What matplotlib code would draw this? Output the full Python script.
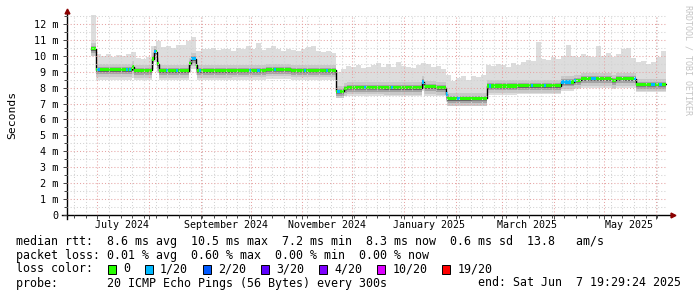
import matplotlib
matplotlib.use('Agg')
import matplotlib.pyplot as plt
import matplotlib.dates as mdates
import matplotlib.ticker as mticker
from matplotlib.patches import Rectangle
import numpy as np
import pandas as pd

plt.rcParams['font.family'] = 'DejaVu Sans Mono'

# graph window (smokeping "last 360 days")
start = pd.Timestamp('2024-06-12 19:29:24')
end = pd.Timestamp('2025-06-07 19:29:24')

# median rtt (ms), step changes
med_dates = ['2024-06-27', '2024-06-30', '2024-07-22', '2024-07-23', '2024-08-03',
             '2024-08-04', '2024-08-06', '2024-08-07', '2024-08-25', '2024-08-26',
             '2024-08-29', '2024-08-30', '2024-09-20', '2024-10-10', '2024-10-25',
             '2024-11-21', '2024-11-26', '2024-11-28', '2024-12-20', '2025-01-12',
             '2025-01-13', '2025-01-20', '2025-01-26', '2025-01-27', '2025-02-10',
             '2025-02-20', '2025-03-10', '2025-04-05', '2025-04-13', '2025-04-17',
             '2025-05-06', '2025-05-08', '2025-05-20']
med_vals = [10.45, 9.12, 9.30, 9.08, 9.80, 10.25, 9.50, 9.05, 9.50, 9.82,
            9.40, 9.05, 9.10, 9.15, 9.10, 7.78, 7.95, 8.02, 8.00, 8.35,
            8.05, 8.00, 7.60, 7.30, 7.32, 8.10, 8.12, 8.35, 8.45, 8.55,
            8.45, 8.55, 8.22]
# lowest ping at the same steps
lo_vals = [10.10, 8.50, 8.60, 8.48, 9.20, 9.60, 8.90, 8.45, 8.90, 9.20,
           8.80, 8.45, 8.50, 8.55, 8.50, 7.40, 7.45, 7.50, 7.50, 7.80,
           7.50, 7.45, 7.10, 6.95, 6.95, 7.55, 7.60, 7.80, 7.90, 8.00,
           7.90, 8.00, 7.70]
data_end = '2025-06-07'

# highest ping, 3 day bins
hi_start = '2024-06-27'
hi_step = 3
hi_vals = [12.70, 10.10, 10.00, 10.10, 9.95, 10.05, 10.00, 10.10, 10.25, 9.85,
           9.80, 9.90, 10.60, 10.90, 10.55, 10.60, 10.50, 10.65, 10.70, 10.90,
           11.15, 10.30, 10.45, 10.40, 10.50, 10.35, 10.45, 10.40, 10.30, 10.50,
           10.40, 10.60, 10.45, 10.80, 10.35, 10.50, 10.60, 10.40, 10.30, 10.45,
           10.35, 10.30, 10.40, 10.55, 10.60, 10.30, 10.25, 10.30, 10.20, 9.00,
           9.20, 9.35, 9.30, 9.40, 9.25, 9.30, 9.45, 9.55, 9.30, 9.50,
           9.30, 9.60, 9.35, 9.30, 9.25, 9.40, 9.55, 9.50, 9.30, 9.35,
           9.20, 8.80, 8.40, 8.60, 8.75, 8.50, 8.70, 8.65, 8.80, 9.40,
           9.35, 9.50, 9.40, 9.30, 9.55, 9.45, 9.60, 9.75, 9.70, 10.85,
           9.80, 9.75, 9.90, 9.80, 10.00, 10.70, 10.00, 9.90, 10.10, 10.00,
           9.95, 10.60, 10.00, 10.15, 9.95, 10.10, 10.40, 10.50, 9.85, 9.60,
           9.70, 9.50, 9.60, 9.90, 10.30]

# periods with 1/20 packet loss (start, length in days)
loss_dates = ['2024-07-01', '2024-07-18', '2024-07-20', '2024-08-04', '2024-08-11',
              '2024-08-17', '2024-08-26', '2024-08-31', '2024-09-30',
              '2024-10-05', '2024-10-15', '2024-11-02', '2024-11-15', '2024-11-22',
              '2024-12-08', '2024-12-24', '2025-01-12', '2025-01-26', '2025-02-02',
              '2025-02-21', '2025-03-18', '2025-03-26', '2025-04-05',
              '2025-04-13', '2025-04-23', '2025-05-19', '2025-05-29', '2025-06-03']
loss_days = [1.5, 1.5, 1.5, 1.5, 1.5,
             1.5, 3.0, 1.5, 1.5,
             1.5, 1.5, 1.5, 1.5, 1.5,
             1.5, 1.5, 1.0, 1.5, 1.5,
             1.5, 1.5, 1.5, 6.0,
             1.5, 3.5, 1.5, 2.5, 2.0]

label_months = ['2024-07-01', '2024-09-01', '2024-11-01',
                '2025-01-01', '2025-03-01', '2025-05-01']

loss_colors = ['#26ff00', '#00b8ff', '#0059ff', '#5e00ff', '#7e00ff', '#dd00ff', '#ff0000']
loss_labels = ['0', '1/20', '2/20', '3/20', '4/20', '10/20', '19/20']

# smoke shades around the median: (below, above, colour)
smoke_bands = [(0.45, 0.35, '#c8c8c8'), (0.28, 0.16, '#a4a4a4'), (0.16, 0.08, '#808080')]

fig = plt.figure(figsize=(6.97, 2.97), dpi=100)
ax = fig.add_axes([67 / 697, 82 / 297, 600 / 697, 200 / 297])

x0 = mdates.date2num(start)
x1 = mdates.date2num(end)
mt = mdates.date2num(pd.to_datetime(med_dates + [data_end]))
med = np.array(med_vals + [med_vals[-1]])
lo = np.array(lo_vals + [lo_vals[-1]])
ht = mdates.date2num(pd.date_range(hi_start, periods=len(hi_vals), freq=f'{hi_step}D'))

ax.bar(ht, hi_vals, width=hi_step, align='edge', color='#dddddd', linewidth=0, zorder=1.0)
ax.fill_between(mt, 0, lo, step='post', color='white', linewidth=0, zorder=1.1)
for i, (b, a, c) in enumerate(smoke_bands):
    ax.fill_between(mt, med - b, med + a, step='post', color=c, linewidth=0, zorder=1.2 + i * 0.05)
ax.step(mt, med, where='post', color='black', lw=1.0, zorder=1.5)
ax.fill_between(mt, med - 0.1, med + 0.1, step='post', color=loss_colors[0], linewidth=0, zorder=1.6)

lt = mdates.date2num(pd.to_datetime(loss_dates))
idx = np.searchsorted(mt, lt, side='right') - 1
ax.bar(lt, 0.2, bottom=med[idx] - 0.1, width=loss_days, align='edge',
       color=loss_colors[1], linewidth=0, zorder=1.7)

ax.set_xlim(x0, x1)
ax.set_ylim(0, 12.56)

ax.xaxis.set_major_locator(mdates.MonthLocator())
ax.xaxis.set_minor_locator(mdates.WeekdayLocator(byweekday=mdates.MO))
ax.xaxis.set_major_formatter(mticker.NullFormatter())
ax.yaxis.set_major_locator(mticker.MultipleLocator(1))
ax.yaxis.set_minor_locator(mticker.MultipleLocator(0.5))
ax.yaxis.set_major_formatter(mticker.FuncFormatter(lambda v, p: '0' if v == 0 else f'{int(v)} m'))

ax.set_axisbelow(False)
ax.grid(which='major', color='#e6a4a4', linestyle=(0, (1, 2)), lw=0.75)
ax.grid(which='minor', color='#d2d2d2', linestyle=(0, (1, 2)), lw=0.75)
ax.tick_params(which='both', direction='out', color='#444444', width=0.7)
ax.tick_params(which='major', length=3)
ax.tick_params(which='minor', length=2)
ax.tick_params(axis='y', labelsize=7.3, pad=3)

for s in ax.spines.values():
    s.set_visible(False)
ax.plot([-0.008, 1.008], [0, 0], color='black', lw=1.0, transform=ax.transAxes, clip_on=False)
ax.plot([0, 0], [-0.02, 1.015], color='black', lw=1.0, transform=ax.transAxes, clip_on=False)
ax.plot([1.01], [0], marker='>', ms=3.5, color='#8b0000', transform=ax.transAxes, clip_on=False)
ax.plot([0], [1.02], marker='^', ms=3.5, color='#8b0000', transform=ax.transAxes, clip_on=False)

trans = ax.get_xaxis_transform()
for m in label_months:
    ts = pd.Timestamp(m)
    ax.text(mdates.date2num(ts) + 15, -0.05, ts.strftime('%B %Y'), transform=trans,
            ha='center', va='center', fontsize=7.2)

ax.set_ylabel('Seconds', fontsize=8.2, labelpad=12)

fig.text(688 / 697, 1 - 60 / 297, 'RRDTOOL / TOBI OETIKER', rotation=270,
         color='#c4c4c4', fontsize=6.0, ha='center', va='center')

fs = 8.4
cw = 7.02
lines = ['median rtt:  8.6 ms avg  10.5 ms max  7.2 ms min  8.3 ms now  0.6 ms sd  13.8   am/s',
         'packet loss: 0.01 % avg  0.60 % max  0.00 % min  0.00 % now']
for i, t in enumerate(lines):
    fig.text(16 / 697, 1 - (241 + 14 * i) / 297, t, fontsize=fs, va='center')

fig.text(16 / 697, 1 - 269 / 297, 'loss color:', fontsize=fs, va='center')
sx = 108
for c, lab in zip(loss_colors, loss_labels):
    fig.add_artist(Rectangle((sx / 697, 1 - 273.5 / 297), 8 / 697, 9 / 297,
                             facecolor=c, edgecolor='black', lw=0.7, transform=fig.transFigure))
    fig.text((sx + 15) / 697, 1 - 269 / 297, lab, fontsize=fs, va='center')
    sx += 15 + len(lab) * cw + 15

fig.text(16 / 697, 1 - 283 / 297, 'probe:       20 ICMP Echo Pings (56 Bytes) every 300s',
         fontsize=fs, va='center')
fig.text(681 / 697, 1 - 283 / 297, 'end: Sat Jun  7 19:29:24 2025', fontsize=fs,
         va='center', ha='right')

fig.savefig('out.png', dpi=100)
